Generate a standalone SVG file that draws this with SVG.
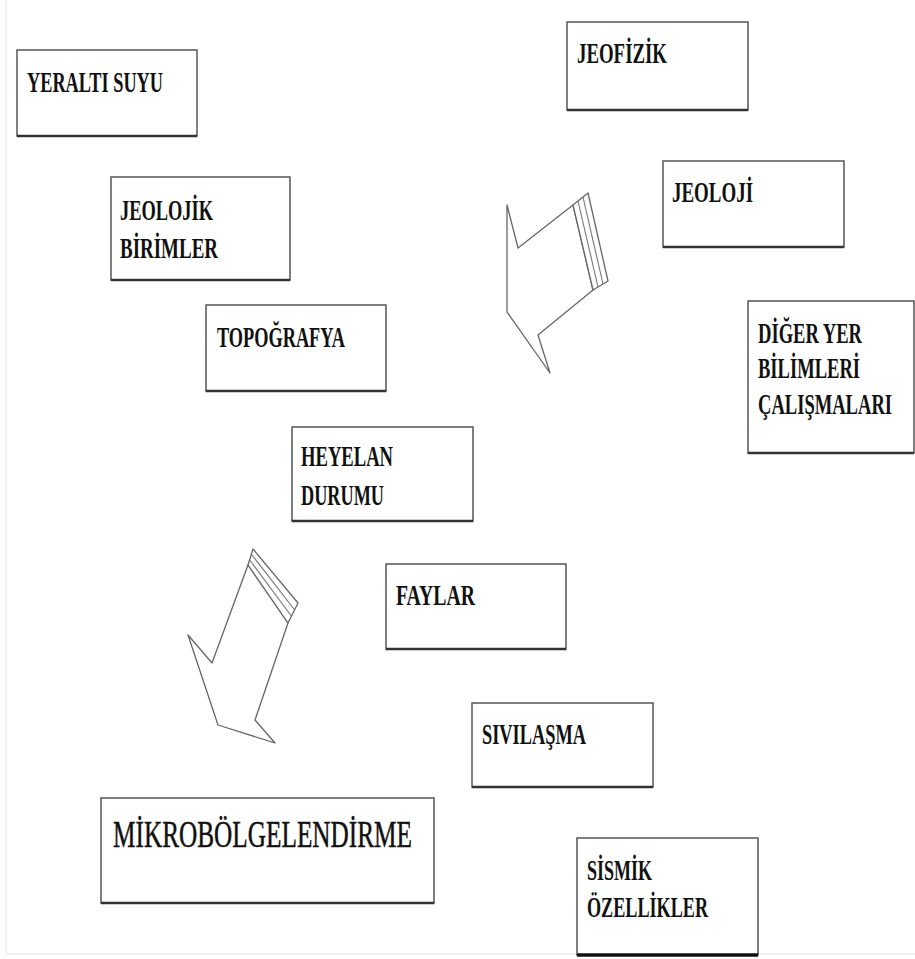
<svg xmlns="http://www.w3.org/2000/svg" width="915" height="959" viewBox="0 0 915 959">
<style>
.box{fill:#fff;stroke:#555;stroke-width:1.5}
.base{stroke:#333;stroke-width:2.5}
.t{font-family:"Liberation Serif","Times New Roman",serif;font-weight:bold;font-size:30px;fill:#111}
.big{font-family:"Liberation Serif","Times New Roman",serif;font-size:37px;fill:#111;stroke:#111;stroke-width:0.5}
.arr{fill:#fff;stroke:#666;stroke-width:1.3;stroke-linejoin:round}
.stripe{fill:none;stroke:#777;stroke-width:1.1}
.page{stroke:#ededed;stroke-width:1.5}
</style>
<rect width="915" height="959" fill="#fff"/>
<line class="page" x1="6" y1="0" x2="6" y2="954"/>
<line class="page" x1="6" y1="954" x2="915" y2="954"/>

<g id="yeralti-suyu">
<rect class="box" x="17" y="50" width="180" height="86"/><line class="base" x1="17" y1="136" x2="197" y2="136"/>
<text class="t" x="27" y="92" textLength="136" lengthAdjust="spacingAndGlyphs">YERALTI SUYU</text>
</g>
<g id="jeolojik-birimler">
<rect class="box" x="111" y="177" width="179" height="103"/><line class="base" x1="111" y1="280" x2="290" y2="280"/>
<text class="t" x="120" y="220" textLength="93" lengthAdjust="spacingAndGlyphs">JEOLOJİK</text>
<text class="t" x="120" y="258" textLength="98" lengthAdjust="spacingAndGlyphs">BİRİMLER</text>
</g>
<g id="jeofizik">
<rect class="box" x="567" y="22" width="181" height="88"/><line class="base" x1="567" y1="110" x2="748" y2="110"/>
<text class="t" x="577" y="63" textLength="90" lengthAdjust="spacingAndGlyphs">JEOFİZİK</text>
</g>
<g id="jeoloji">
<rect class="box" x="663" y="161" width="181" height="86"/><line class="base" x1="663" y1="247" x2="844" y2="247"/>
<text class="t" x="672" y="202" textLength="81" lengthAdjust="spacingAndGlyphs">JEOLOJİ</text>
</g>
<g id="diger-yer-bilimleri">
<rect class="box" x="748" y="301" width="166" height="152"/><line class="base" x1="748" y1="453" x2="914" y2="453"/>
<text class="t" x="758" y="343" textLength="104" lengthAdjust="spacingAndGlyphs">DİĞER YER</text>
<text class="t" x="758" y="378" textLength="102" lengthAdjust="spacingAndGlyphs">BİLİMLERİ</text>
<text class="t" x="758" y="414" textLength="134" lengthAdjust="spacingAndGlyphs">ÇALIŞMALARI</text>
</g>
<g id="topografya">
<rect class="box" x="206" y="305" width="180" height="86"/><line class="base" x1="206" y1="391" x2="386" y2="391"/>
<text class="t" x="217" y="347" textLength="128" lengthAdjust="spacingAndGlyphs">TOPOĞRAFYA</text>
</g>
<g id="heyelan-durumu">
<rect class="box" x="292" y="427" width="181" height="94"/><line class="base" x1="292" y1="521" x2="473" y2="521"/>
<text class="t" x="301" y="466" textLength="92" lengthAdjust="spacingAndGlyphs">HEYELAN</text>
<text class="t" x="301" y="505" textLength="83" lengthAdjust="spacingAndGlyphs">DURUMU</text>
</g>
<g id="faylar">
<rect class="box" x="386" y="564" width="180" height="85"/><line class="base" x1="386" y1="649" x2="566" y2="649"/>
<text class="t" x="396" y="605" textLength="79" lengthAdjust="spacingAndGlyphs">FAYLAR</text>
</g>
<g id="sivilasma">
<rect class="box" x="472" y="703" width="181" height="84"/><line class="base" x1="472" y1="787" x2="653" y2="787"/>
<text class="t" x="482" y="744" textLength="104" lengthAdjust="spacingAndGlyphs">SIVILAŞMA</text>
</g>
<g id="mikrobolgelendirme">
<rect class="box" x="101" y="798" width="333" height="105"/><line class="base" x1="101" y1="903" x2="434" y2="903"/>
<text class="big" x="113" y="847" textLength="299" lengthAdjust="spacingAndGlyphs">MİKROBÖLGELENDİRME</text>
</g>
<g id="sismik-ozellikler">
<rect class="box" x="577" y="838" width="181" height="117"/><line x1="577" y1="955" x2="758" y2="955" stroke="#111" stroke-width="3.5"/>
<text class="t" x="587" y="880" textLength="65" lengthAdjust="spacingAndGlyphs">SİSMİK</text>
<text class="t" x="587" y="917" textLength="121" lengthAdjust="spacingAndGlyphs">ÖZELLİKLER</text>
</g>

<g id="connectors">
<g id="arrow-upper">
<polygon class="arr" points="573,205 518,248 507,205 507,312 550,373 538,335 593,290"/>
<polygon class="arr" points="573,205 588,193 608,281 593,290"/>
<line class="stripe" x1="578" y1="201" x2="598" y2="287"/>
<line class="stripe" x1="583" y1="197" x2="603" y2="284"/>
</g>
<g id="arrow-lower">
<polygon class="arr" points="248,565 212,663 188,635 218,725 275,743 255,720 288,623"/>
<polygon class="arr" points="248,565 253,549 298,603 288,623"/>
<line class="stripe" x1="249.7" y1="560" x2="291.3" y2="616"/>
<line class="stripe" x1="251.3" y1="554" x2="294.7" y2="610"/>
</g>
</g>
</svg>
